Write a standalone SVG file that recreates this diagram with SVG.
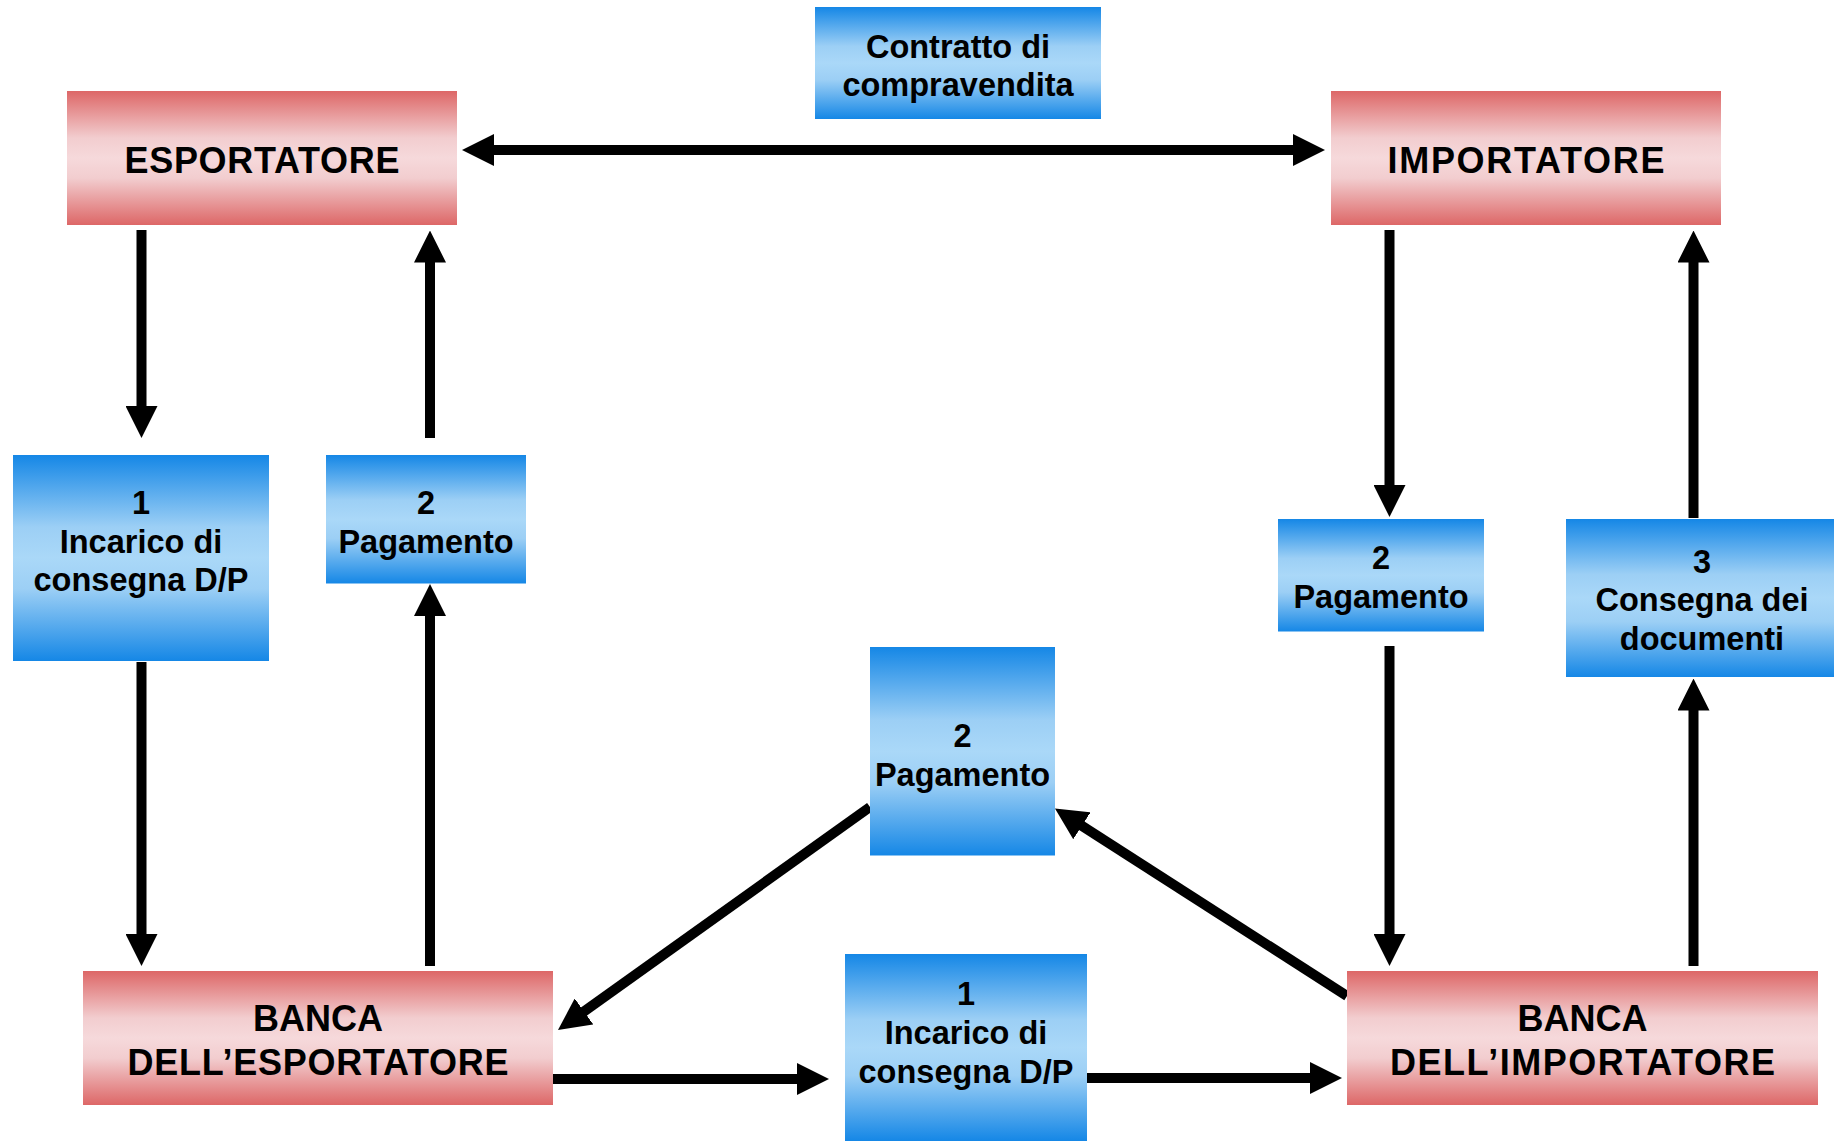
<svg xmlns="http://www.w3.org/2000/svg" width="1834" height="1141" viewBox="0 0 1834 1141">
<style>
.red{fill:url(#gRed)}
.blue{fill:url(#gBlue)}
text{font-family:"Liberation Sans",Arial,sans-serif;font-weight:bold;fill:#000;text-anchor:middle}
.rt{font-size:36px}
.bt{font-size:32.5px}
.arr{stroke:#000;stroke-width:10;fill:none;marker-end:url(#ah)}
.arr2{stroke:#000;stroke-width:10;fill:none;marker-start:url(#ah);marker-end:url(#ah)}
</style>
<defs>
<linearGradient id="gRed" x1="0" y1="0" x2="0" y2="1">
<stop offset="0" stop-color="#DD6767"/>
<stop offset="0.35" stop-color="#F2CDCF"/>
<stop offset="0.5" stop-color="#F6D9DB"/>
<stop offset="0.65" stop-color="#F2CDCF"/>
<stop offset="1" stop-color="#DD6767"/>
</linearGradient>
<linearGradient id="gBlue" x1="0" y1="0" x2="0" y2="1">
<stop offset="0" stop-color="#1587E6"/>
<stop offset="0.35" stop-color="#9CCFF5"/>
<stop offset="0.5" stop-color="#AAD8F8"/>
<stop offset="0.65" stop-color="#9CCFF5"/>
<stop offset="1" stop-color="#1587E6"/>
</linearGradient>
<marker id="ah" markerUnits="userSpaceOnUse" markerWidth="32" markerHeight="32" viewBox="0 0 32 32" refX="2" refY="16" orient="auto-start-reverse">
<path d="M0,0 L32,16 L0,32 z" fill="#000"/>
</marker>
</defs>
<rect width="1834" height="1141" fill="#fff"/>

<g id="connectors">
<line class="arr2" x1="492" y1="150" x2="1295" y2="150"/>
<line class="arr" x1="141.5" y1="230" x2="141.5" y2="408"/>
<line class="arr" x1="430" y1="438" x2="430" y2="260.5"/>
<line class="arr" x1="141.5" y1="662" x2="141.5" y2="936"/>
<line class="arr" x1="430" y1="966" x2="430" y2="614"/>
<line class="arr" x1="553" y1="1079" x2="799" y2="1079"/>
<line class="arr" x1="1087" y1="1078" x2="1312" y2="1078"/>
<line class="arr" x1="1389.5" y1="230" x2="1389.5" y2="487"/>
<line class="arr" x1="1693.5" y1="518" x2="1693.5" y2="260.5"/>
<line class="arr" x1="1389.5" y1="646" x2="1389.5" y2="936"/>
<line class="arr" x1="1693.5" y1="966" x2="1693.5" y2="708.5"/>
<line class="arr" x1="870" y1="807" x2="582.4" y2="1012.6"/>
<line class="arr" x1="1347" y1="996" x2="1080.2" y2="824.7"/>
</g>

<g id="contratto">
<rect class="blue" x="815" y="7" width="286" height="112"/>
<text class="bt" x="958" y="57.5">Contratto di</text>
<text class="bt" x="958" y="95.5">compravendita</text>
</g>

<g id="esportatore">
<rect class="red" x="67" y="91" width="390" height="134"/>
<text class="rt" x="262" y="173" textLength="275" lengthAdjust="spacing">ESPORTATORE</text>
</g>

<g id="importatore">
<rect class="red" x="1331" y="91" width="390" height="134"/>
<text class="rt" x="1526" y="173" textLength="277" lengthAdjust="spacing">IMPORTATORE</text>
</g>

<g id="incarico-sx">
<rect class="blue" x="13" y="455" width="256" height="206"/>
<text class="bt" x="141" y="514">1</text>
<text class="bt" x="141" y="552.5">Incarico di</text>
<text class="bt" x="141" y="591">consegna D/P</text>
</g>

<g id="pagamento-sx">
<rect class="blue" x="326" y="455" width="200" height="128.5"/>
<text class="bt" x="426" y="514">2</text>
<text class="bt" x="426" y="552.5">Pagamento</text>
</g>

<g id="pagamento-dx">
<rect class="blue" x="1278" y="519" width="206" height="112.5"/>
<text class="bt" x="1381" y="569">2</text>
<text class="bt" x="1381" y="607.5">Pagamento</text>
</g>

<g id="consegna-documenti">
<rect class="blue" x="1566" y="519" width="268" height="158"/>
<text class="bt" x="1702" y="572.5">3</text>
<text class="bt" x="1702" y="611">Consegna dei</text>
<text class="bt" x="1702" y="649.5">documenti</text>
</g>

<g id="pagamento-centro">
<rect class="blue" x="870" y="647" width="185" height="208.5"/>
<text class="bt" x="962.5" y="746.5">2</text>
<text class="bt" x="962.5" y="785.5">Pagamento</text>
</g>

<g id="incarico-centro">
<rect class="blue" x="845" y="954" width="242" height="187"/>
<text class="bt" x="966" y="1004.5">1</text>
<text class="bt" x="966" y="1043.5">Incarico di</text>
<text class="bt" x="966" y="1082.5">consegna D/P</text>
</g>

<g id="banca-esportatore">
<rect class="red" x="83" y="971" width="470" height="134"/>
<text class="rt" x="318" y="1031">BANCA</text>
<text class="rt" x="318" y="1074.5" textLength="381" lengthAdjust="spacing">DELL’ESPORTATORE</text>
</g>

<g id="banca-importatore">
<rect class="red" x="1347" y="971" width="471" height="134"/>
<text class="rt" x="1582.5" y="1031">BANCA</text>
<text class="rt" x="1582.5" y="1074.5" textLength="385" lengthAdjust="spacing">DELL’IMPORTATORE</text>
</g>
</svg>
